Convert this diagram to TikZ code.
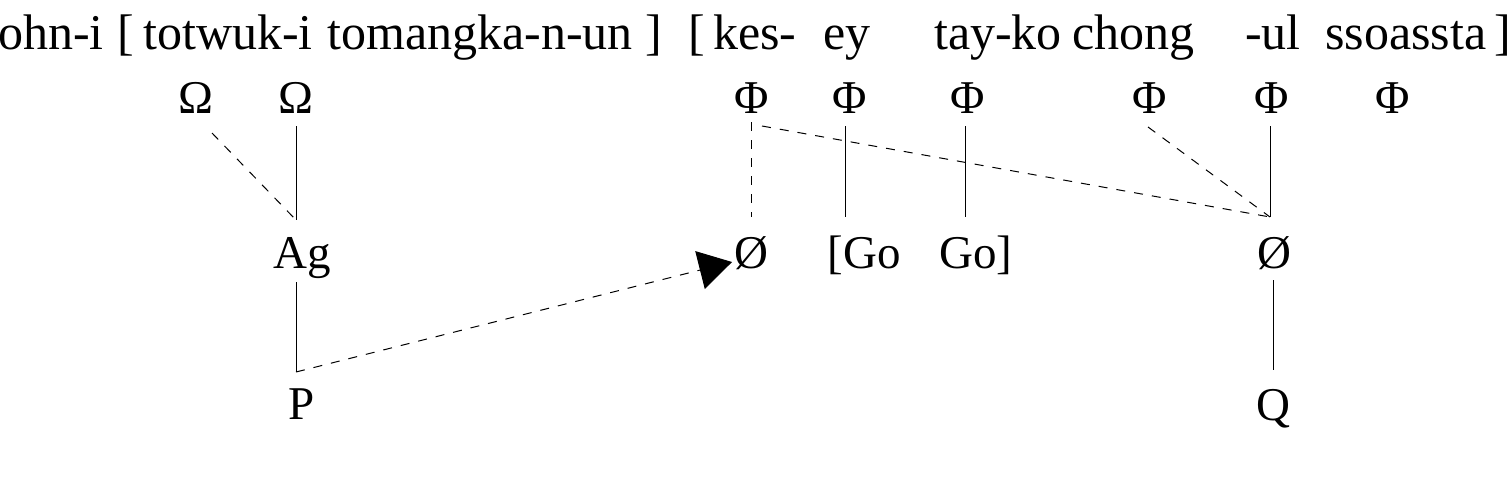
\documentclass[tikz,border=0pt]{standalone}
\usepackage{fontspec}
\setmainfont{Liberation Serif}
\usetikzlibrary{arrows.meta,calc}
\begin{document}
\begin{tikzpicture}[x=1pt,y=-1pt,
  word/.style={inner sep=0pt,anchor=base west,font=\fontsize{50}{60}\selectfont},
  lab/.style={inner sep=0pt,anchor=base,font=\fontsize{47}{56}\selectfont},
  solidline/.style={line width=1pt},
  dashline/.style={line width=1pt,dash pattern=on 9pt off 9pt},
  bigarrow/.style={-{Triangle[length=33pt,width=39pt]}}]
\useasboundingbox (0,0) rectangle (1509,493);
% top line
\node[word] (w1) at (-2,49) {ohn-i};
\node[word] (w2) at (117,49) {[};
\node[word] (w3) at (143,49) {totwuk-i};
\node[word] (w4) at (327,49) {tomangka-n-un};
\node[word] (w5) at (645,49) {]};
\node[word] (w6) at (688,49) {[};
\node[word] (w7) at (713,49) {kes-};
\node[word] (w8) at (823,49) {ey};
\node[word] (w9) at (934,49) {tay-ko};
\node[word] (w10) at (1072,49) {chong};
\node[word] (w11) at (1245,49) {-ul};
\node[word] (w12) at (1325,49) {ssoassta};
\node[word] (w13) at (1494,49) {]};
% second row
\node[lab] (om1) at (196,113) {Ω};
\node[lab] (om2) at (296,113) {Ω};
\node[lab] (ph1) at (752,113) {Φ};
\node[lab] (ph2) at (850,113) {Φ};
\node[lab] (ph3) at (968,113) {Φ};
\node[lab] (ph4) at (1150,113) {Φ};
\node[lab] (ph5) at (1272,113) {Φ};
\node[lab] (ph6) at (1393,113) {Φ};
% third row
\node[lab] (ag) at (302.5,268) {Ag};
\node[lab] (z1) at (751,268) {Ø};
\node[lab] (go1) at (864.5,268) {[Go};
\node[lab] (go2) at (976,268) {Go]};
\node[lab] (z2) at (1274,268) {Ø};
% fourth row
\node[lab] (p) at (301.5,419) {P};
\node[lab] (q) at (1273,420) {Q};
% connectors
\draw[dashline] ($(om1.base)+(16,20)$) -- ($(ag.base)+(-6.5,-48)$);
\draw[solidline] ($(om2.base)+(0,13)$) -- ($(ag.base)+(-6.5,-48)$);
\draw[solidline] ($(ag.base)+(-6.5,14)$) -- ($(p.base)+(-5.5,-47)$);
\draw[dashline,bigarrow] ($(p.base)+(-5.5,-47)$) -- ($(z1.base)+(-19,-6)$);
\draw[dashline] ($(ph1.base)+(-1,9)$) -- ($(z1.base)+(0,-51)$);
\draw[dashline] ($(ph1.base)+(10,13)$) -- ($(z2.base)+(-4,-51)$);
\draw[solidline] ($(ph2.base)+(-5,13)$) -- ($(go1.base)+(-19.5,-51)$);
\draw[solidline] ($(ph3.base)+(-3,13)$) -- ($(go2.base)+(-11,-51)$);
\draw[dashline] ($(ph4.base)+(-2,14)$) -- ($(z2.base)+(-4,-51)$);
\draw[solidline] ($(ph5.base)+(-2,13)$) -- ($(z2.base)+(-4,-51)$);
\draw[solidline] ($(z2.base)+(-1,12)$) -- ($(q.base)+(0,-50)$);
\end{tikzpicture}
\end{document}
